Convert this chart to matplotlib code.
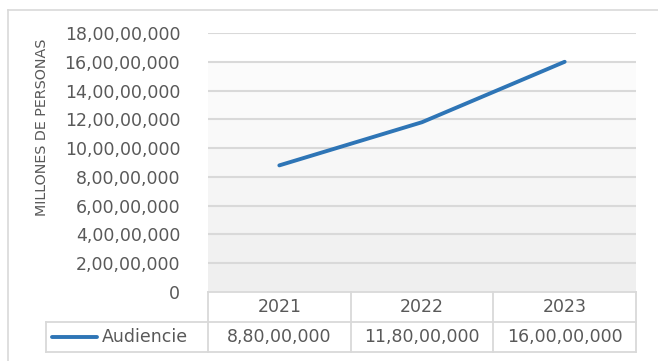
import numpy as np
import matplotlib.pyplot as plt
import matplotlib.transforms as mtransforms
from matplotlib.colors import LinearSegmentedColormap

# data
years = ["2021", "2022", "2023"]
audiencia = [88000000, 118000000, 160000000]
series_name = "Audiencie"
y_label = "MILLONES DE PERSONAS"
y_ticks = np.arange(0, 180000001, 20000000)


def indian_format(n):
    # 18,00,00,000 style grouping
    s = str(int(n))
    if len(s) <= 3:
        return s
    head, tail = s[:-3], s[-3:]
    groups = []
    while len(head) > 2:
        groups.insert(0, head[-2:])
        head = head[:-2]
    if head:
        groups.insert(0, head)
    return ",".join(groups) + "," + tail


plt.rcParams['font.family'] = ['DejaVu Sans']
text_col = '#595959'
grid_col = '#d9d9d9'
blue = '#2e75b6'

fig = plt.figure(figsize=(6.58, 3.61), dpi=100)
W, H = 658, 361

# chart outer border (only top/left visible)
fig.add_artist(plt.Line2D([8 / W, 8 / W], [0, 1 - 10 / H], color='#d9d9d9', lw=1.2))
fig.add_artist(plt.Line2D([8 / W, 1], [1 - 10 / H, 1 - 10 / H], color='#d9d9d9', lw=1.2))

ax = fig.add_axes([208 / W, 1 - 292 / H, (636 - 208) / W, (292 - 33) / H])
x = np.arange(len(years)) + 0.5
ymax = y_ticks[-1]
ax.set_xlim(0, len(years))
ax.set_ylim(0, ymax)

# gradient background, white at the top band, light grey at the bottom
cmap = LinearSegmentedColormap.from_list('bg', ['#ffffff', '#f9f9f9', '#efefef'])
grad = np.linspace(0.15, 1, 9).reshape(-1, 1)
grad[0] = 0.0
ax.imshow(grad, extent=[0, len(years), 0, ymax], aspect='auto',
          cmap=cmap, vmin=0, vmax=1, zorder=0, interpolation='nearest')

for t in y_ticks[1:]:
    ax.axhline(t, color=grid_col, lw=1.5, zorder=1)

ax.plot(x, audiencia, color=blue, lw=2.8, solid_capstyle='round', zorder=3)

ax.set_yticks(y_ticks)
ax.set_yticklabels([indian_format(v) for v in y_ticks], fontsize=12.5, color=text_col)
ax.tick_params(axis='y', length=0, pad=20)
ax.set_xticks([])
for s in ax.spines.values():
    s.set_visible(False)

fig.text(42 / W, 1 - 127 / H, y_label, rotation=90, ha='center', va='center',
         fontsize=10.3, color=text_col)

# data table under the axis
trans = mtransforms.blended_transform_factory(ax.transData, ax.transAxes)
rh = 30 / 259
left = -1.136
n = len(years)
kw = dict(color=grid_col, lw=1.3, transform=trans, clip_on=False)
ax.plot([0, n], [0, 0], **kw)
ax.plot([left, n], [-rh, -rh], **kw)
ax.plot([left, n], [-2 * rh, -2 * rh], **kw)
ax.plot([left, left], [-rh, -2 * rh], **kw)
for i in range(n + 1):
    ax.plot([i, i], [0, -2 * rh], **kw)

for i, (yr, v) in enumerate(zip(years, audiencia)):
    ax.text(i + 0.5, -0.5 * rh, yr, transform=trans, ha='center', va='center',
            fontsize=12.5, color=text_col)
    ax.text(i + 0.5, -1.5 * rh, indian_format(v), transform=trans, ha='center',
            va='center', fontsize=12.5, color=text_col)

ax.plot([-1.093, -0.778], [-1.5 * rh, -1.5 * rh], color=blue, lw=2.8,
        transform=trans, clip_on=False, solid_capstyle='round')
ax.text(-0.745, -1.5 * rh, series_name, transform=trans, ha='left', va='center',
        fontsize=12.5, color=text_col)

fig.savefig('out.png', dpi=100)
